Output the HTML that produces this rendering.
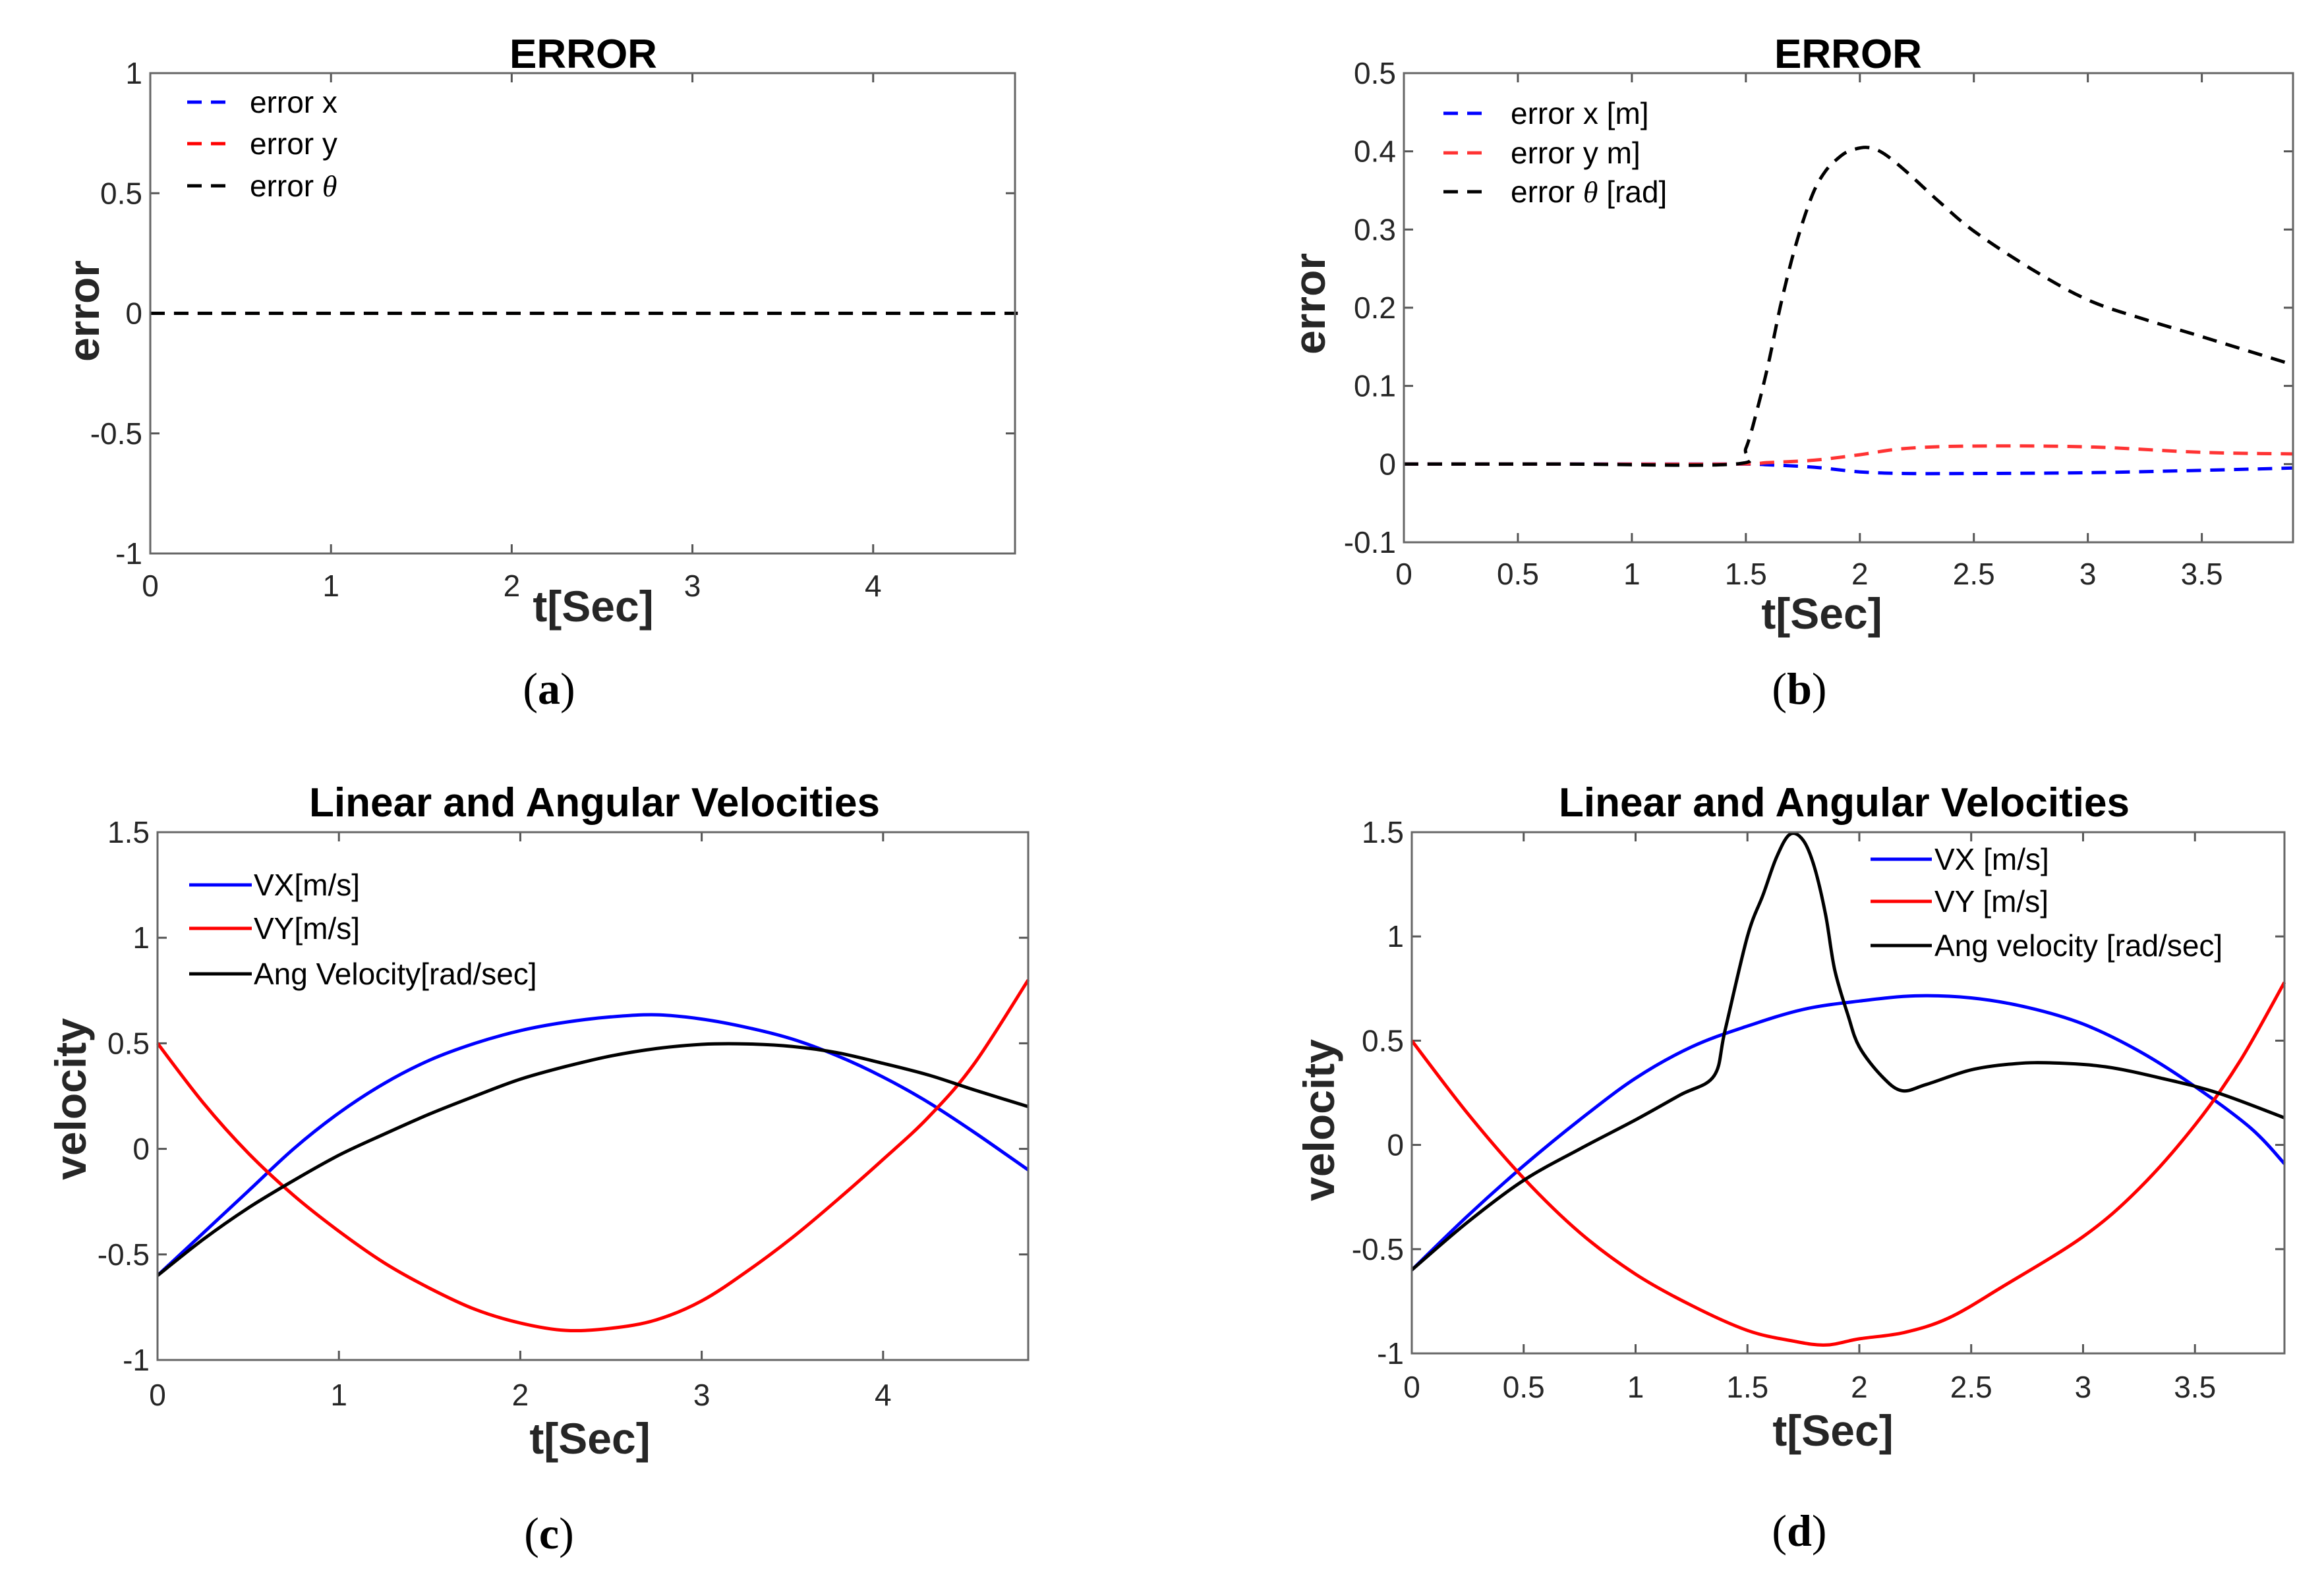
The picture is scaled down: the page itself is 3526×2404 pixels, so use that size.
<!DOCTYPE html>
<html><head><meta charset="utf-8">
<style>
html,body{margin:0;padding:0;background:#fff}
svg{display:block}
text{font-family:"Liberation Sans",sans-serif}
.tick{font-size:46px;fill:#262626}
.ttl{font-size:62px;font-weight:bold;fill:#000}
.lab{font-size:66px;font-weight:bold;fill:#262626}
.leg{font-size:46px;fill:#000}
.cap{font-family:"Liberation Serif",serif;font-size:68px;fill:#000}
</style></head>
<body>
<svg id="fig" width="3526" height="2404" viewBox="0 0 3526 2404" xmlns="http://www.w3.org/2000/svg"></svg>
<script>
// ---- Panel (a) data ----
const aT = [0, 4.8];
const aErrX = [0, 0];
const aErrY = [0, 0];
const aErrTh = [0, 0];
const aXTicks = [0, 1, 2, 3, 4];
const aYTicks = [-1, -0.5, 0, 0.5, 1];
const aYTickLabels = ["-1", "-0.5", "0", "0.5", "1"];

// ---- Panel (b) data ----
const bT = [0, 0.7, 1.45, 1.5, 1.55, 1.6, 1.65, 1.7, 1.75, 1.8, 1.85, 1.9, 1.95, 2.03, 2.1, 2.2, 2.35, 2.5, 2.75, 3.0, 3.25, 3.5, 3.9];
const bErrTh = [0, 0, 0, 0.02, 0.07, 0.13, 0.2, 0.26, 0.31, 0.35, 0.375, 0.39, 0.4, 0.405, 0.398, 0.375, 0.335, 0.298, 0.25, 0.21, 0.185, 0.163, 0.127];
const bT2 = [0, 0.7, 1.45, 1.6, 1.8, 2.0, 2.2, 2.5, 3.0, 3.5, 3.9];
const bErrX = [0, 0, 0, -0.001, -0.004, -0.01, -0.012, -0.012, -0.011, -0.008, -0.005];
const bErrY = [0, 0, 0, 0.002, 0.005, 0.012, 0.02, 0.023, 0.022, 0.015, 0.013];
const bXTicks = [0, 0.5, 1, 1.5, 2, 2.5, 3, 3.5];
const bXTickLabels = ["0", "0.5", "1", "1.5", "2", "2.5", "3", "3.5"];
const bYTicks = [-0.1, 0, 0.1, 0.2, 0.3, 0.4, 0.5];
const bYTickLabels = ["-0.1", "0", "0.1", "0.2", "0.3", "0.4", "0.5"];

// ---- Panel (c) data ----
const cT = [0, 0.25, 0.5, 0.75, 1, 1.25, 1.5, 1.75, 2, 2.25, 2.5, 2.75, 3, 3.25, 3.5, 3.75, 4, 4.25, 4.5, 4.8];
const cVX = [-0.6, -0.4, -0.2, 0.0, 0.17, 0.31, 0.42, 0.5, 0.56, 0.6, 0.625, 0.635, 0.615, 0.575, 0.52, 0.44, 0.34, 0.22, 0.08, -0.1];
const cVY = [0.5, 0.22, -0.02, -0.22, -0.39, -0.54, -0.66, -0.76, -0.825, -0.86, -0.85, -0.81, -0.72, -0.58, -0.42, -0.24, -0.05, 0.15, 0.4, 0.8];
const cW = [-0.6, -0.43, -0.28, -0.15, -0.03, 0.07, 0.165, 0.25, 0.33, 0.39, 0.44, 0.475, 0.495, 0.497, 0.485, 0.455, 0.405, 0.35, 0.28, 0.2];
const cXTicks = [0, 1, 2, 3, 4];
const cYTicks = [-1, -0.5, 0, 0.5, 1, 1.5];
const cYTickLabels = ["-1", "-0.5", "0", "0.5", "1", "1.5"];

// ---- Panel (d) data ----
const dT = [0, 0.25, 0.5, 0.75, 1, 1.25, 1.5, 1.75, 2, 2.25, 2.5, 2.75, 3, 3.25, 3.5, 3.75, 3.9];
const dVX = [-0.6, -0.34, -0.1, 0.12, 0.32, 0.47, 0.57, 0.65, 0.69, 0.715, 0.705, 0.66, 0.58, 0.45, 0.28, 0.08, -0.09];
const dTY = [0, 0.25, 0.5, 0.75, 1, 1.25, 1.5, 1.7, 1.85, 2.0, 2.2, 2.4, 2.64, 3, 3.25, 3.5, 3.7, 3.9];
const dVY = [0.5, 0.15, -0.16, -0.42, -0.62, -0.77, -0.89, -0.94, -0.96, -0.93, -0.9, -0.83, -0.68, -0.44, -0.21, 0.095, 0.4, 0.78];
const dTW = [0, 0.25, 0.5, 0.75, 1, 1.2, 1.35, 1.4, 1.5, 1.57, 1.63, 1.69, 1.75, 1.8, 1.85, 1.89, 1.95, 2.0, 2.1, 2.19, 2.3, 2.5, 2.7, 2.87, 3.1, 3.35, 3.6, 3.9];
const dW = [-0.6, -0.37, -0.17, -0.02, 0.12, 0.24, 0.33, 0.55, 1.0, 1.2, 1.38, 1.49, 1.46, 1.33, 1.1, 0.84, 0.62, 0.47, 0.33, 0.26, 0.29, 0.36, 0.39, 0.393, 0.375, 0.32, 0.25, 0.13];
const dXTicks = [0, 0.5, 1, 1.5, 2, 2.5, 3, 3.5];
const dXTickLabels = ["0", "0.5", "1", "1.5", "2", "2.5", "3", "3.5"];
const dYTicks = [-1, -0.5, 0, 0.5, 1, 1.5];
const dYTickLabels = ["-1", "-0.5", "0", "0.5", "1", "1.5"];

const NS = "http://www.w3.org/2000/svg";
const svg = document.getElementById('fig');
function mk(tag, attrs, parent, txt) {
  const e = document.createElementNS(NS, tag);
  for (const k in attrs) e.setAttribute(k, attrs[k]);
  if (txt !== undefined) e.textContent = txt;
  (parent || svg).appendChild(e);
  return e;
}
function smoothPath(xs, ys, sx, sy) {
  const P = xs.map((x, i) => [sx(x), sy(ys[i])]);
  let d = "M" + P[0][0].toFixed(1) + "," + P[0][1].toFixed(1);
  for (let i = 0; i < P.length - 1; i++) {
    const p0 = P[Math.max(0, i - 1)], p1 = P[i], p2 = P[i + 1], p3 = P[Math.min(P.length - 1, i + 2)];
    const c1 = [p1[0] + (p2[0] - p0[0]) / 6, p1[1] + (p2[1] - p0[1]) / 6];
    const c2 = [p2[0] - (p3[0] - p1[0]) / 6, p2[1] - (p3[1] - p1[1]) / 6];
    d += "C" + c1[0].toFixed(1) + "," + c1[1].toFixed(1) + " " + c2[0].toFixed(1) + "," + c2[1].toFixed(1) + " " + p2[0].toFixed(1) + "," + p2[1].toFixed(1);
  }
  return d;
}

function panel(cfg) {
  const g = mk('g', {});
  
  
  const sx = v => cfg.L + (v - cfg.x0) / (cfg.x1 - cfg.x0) * (cfg.R - cfg.L);
  const sy = v => cfg.B - (v - cfg.y0) / (cfg.y1 - cfg.y0) * (cfg.B - cfg.T);
  cfg.xt.forEach((v, i) => {
    const t1 = mk('line', {x1: sx(v), x2: sx(v), y1: cfg.B, y2: cfg.B - 14, stroke: '#555', 'stroke-width': 3}, g);
    
    
    mk('line', {x1: sx(v), x2: sx(v), y1: cfg.T, y2: cfg.T + 14, stroke: '#555', 'stroke-width': 3}, g);
    const tl = mk('text', {x: sx(v), y: cfg.xty, 'text-anchor': 'middle', class: 'tick'}, g, cfg.xtl ? cfg.xtl[i] : String(v));
    
    
  });
  cfg.yt.forEach((v, i) => {
    const t1 = mk('line', {x1: cfg.L, x2: cfg.L + 14, y1: sy(v), y2: sy(v), stroke: '#555', 'stroke-width': 3}, g);
    
    
    mk('line', {x1: cfg.R, x2: cfg.R - 14, y1: sy(v), y2: sy(v), stroke: '#555', 'stroke-width': 3}, g);
    const tl = mk('text', {x: cfg.L - 12, y: sy(v) + 16, 'text-anchor': 'end', class: 'tick'}, g, cfg.ytl[i]);
    
    
  });
  cfg.series.forEach(s => {
    const p = mk('path', {d: smoothPath(s.x, s.y, sx, sy), fill: 'none', stroke: s.c, 'stroke-width': 5, 'stroke-dasharray': s.dash || 'none', 'stroke-linejoin': 'round'}, g);
    
    
  });
  const bx = mk('rect', {x: cfg.L, y: cfg.T, width: cfg.R - cfg.L, height: cfg.B - cfg.T, fill: 'none', stroke: '#666', 'stroke-width': 3}, g);
  
  
  const tt = mk('text', {x: cfg.tx, y: cfg.ty, 'text-anchor': 'middle', class: 'ttl'}, g, cfg.title);
  
  
  const xl = mk('text', {x: cfg.xlx, y: cfg.xly, 'text-anchor': 'middle', class: 'lab'}, g, 't[Sec]');
  
  
  const yl = mk('text', {x: 0, y: 0, 'text-anchor': 'middle', class: 'lab', transform: 'translate(' + cfg.ylx + ',' + cfg.yly + ') rotate(-90)'}, g, cfg.ylab);
  
  
  cfg.leg.forEach((e, i) => {
    const y = cfg.legY[i];
    const ln = mk('line', {x1: cfg.legX0, x2: cfg.legX1, y1: y, y2: y, stroke: e.c, 'stroke-width': 5, 'stroke-dasharray': e.dash || 'none'}, g);
    
    
    const t = mk('text', {x: cfg.legTX, y: y + 16, class: 'leg'}, g);
    
    
    e.t.forEach(part => {
      mk('tspan', part.i ? {'font-family': '"Liberation Serif",serif', 'font-style': 'italic'} : {}, t, part.s);
    });
  });
  const cp = mk('text', {x: cfg.cx, y: cfg.cy, 'text-anchor': 'middle', class: 'cap'}, g);
  
  
  mk('tspan', {}, cp, '(');
  mk('tspan', {'font-weight': 'bold'}, cp, cfg.cap);
  mk('tspan', {}, cp, ')');
}

const DASH = '22 14';
panel({name: 'panel-a', L: 228, R: 1540, T: 111, B: 840, x0: 0, x1: 4.785, y0: -1, y1: 1,
  xt: aXTicks, yt: aYTicks, ytl: aYTickLabels, xty: 905,
  series: [{x: aT, y: aErrX, c: '#0000ff', dash: DASH, n: 'error-x-line'}, {x: aT, y: aErrY, c: '#ff0000', dash: DASH, n: 'error-y-line'}, {x: aT, y: aErrTh, c: '#000', dash: DASH, n: 'error-theta-line'}],
  title: 'ERROR', tx: 885, ty: 103, xlx: 900, xly: 943, ylx: 150, yly: 472, ylab: 'error',
  leg: [{c: '#0000ff', dash: DASH, t: [{s: 'error x'}]}, {c: '#ff0000', dash: DASH, t: [{s: 'error y'}]}, {c: '#000', dash: DASH, t: [{s: 'error '}, {s: 'θ', i: 1}]}],
  legY: [155, 218, 282], legX0: 284, legX1: 353, legTX: 379, cx: 833, cy: 1068, cap: 'a'});

panel({name: 'panel-b', L: 2130, R: 3479, T: 111, B: 823, x0: 0, x1: 3.9, y0: -0.1, y1: 0.5,
  xt: bXTicks, xtl: bXTickLabels, yt: bYTicks, ytl: bYTickLabels, xty: 887,
  series: [{x: bT2, y: bErrX, c: '#0000ff', dash: DASH, n: 'error-x-line'}, {x: bT2, y: bErrY, c: '#ff3333', dash: DASH, n: 'error-y-line'}, {x: bT, y: bErrTh, c: '#000', dash: DASH, n: 'error-theta-line'}],
  title: 'ERROR', tx: 2804, ty: 103, xlx: 2764, xly: 954, ylx: 2010, yly: 461, ylab: 'error',
  leg: [{c: '#0000ff', dash: DASH, t: [{s: 'error x [m]'}]}, {c: '#ff3333', dash: DASH, t: [{s: 'error y m]'}]}, {c: '#000', dash: DASH, t: [{s: 'error '}, {s: 'θ', i: 1}, {s: ' [rad]'}]}],
  legY: [172, 232, 291], legX0: 2190, legX1: 2261, legTX: 2292, cx: 2730, cy: 1068, cap: 'b'});

panel({name: 'panel-c', L: 239, R: 1560, T: 1263, B: 2064, x0: 0, x1: 4.8, y0: -1, y1: 1.5,
  xt: cXTicks, yt: cYTicks, ytl: cYTickLabels, xty: 2133,
  series: [{x: cT, y: cVX, c: '#0000ff', n: 'vx-line'}, {x: cT, y: cVY, c: '#ff0000', n: 'vy-line'}, {x: cT, y: cW, c: '#000', n: 'ang-velocity-line'}],
  title: 'Linear and Angular Velocities', tx: 902, ty: 1239, xlx: 895, xly: 2206, ylx: 130, yly: 1668, ylab: 'velocity',
  leg: [{c: '#0000ff', t: [{s: 'VX[m/s]'}]}, {c: '#ff0000', t: [{s: 'VY[m/s]'}]}, {c: '#000', t: [{s: 'Ang Velocity[rad/sec]'}]}],
  legY: [1343, 1409, 1478], legX0: 287, legX1: 382, legTX: 385, cx: 833, cy: 2350, cap: 'c'});

panel({name: 'panel-d', L: 2142, R: 3466, T: 1263, B: 2054, x0: 0, x1: 3.9, y0: -1, y1: 1.5,
  xt: dXTicks, xtl: dXTickLabels, yt: dYTicks, ytl: dYTickLabels, xty: 2121,
  series: [{x: dT, y: dVX, c: '#0000ff', n: 'vx-line'}, {x: dTY, y: dVY, c: '#ff0000', n: 'vy-line'}, {x: dTW, y: dW, c: '#000', n: 'ang-velocity-line'}],
  title: 'Linear and Angular Velocities', tx: 2798, ty: 1239, xlx: 2781, xly: 2194, ylx: 2024, yly: 1700, ylab: 'velocity',
  leg: [{c: '#0000ff', t: [{s: 'VX [m/s]'}]}, {c: '#ff0000', t: [{s: 'VY [m/s]'}]}, {c: '#000', t: [{s: 'Ang velocity [rad/sec]'}]}],
  legY: [1304, 1368, 1435], legX0: 2838, legX1: 2931, legTX: 2935, cx: 2730, cy: 2346, cap: 'd'});
</script>
</body></html>
